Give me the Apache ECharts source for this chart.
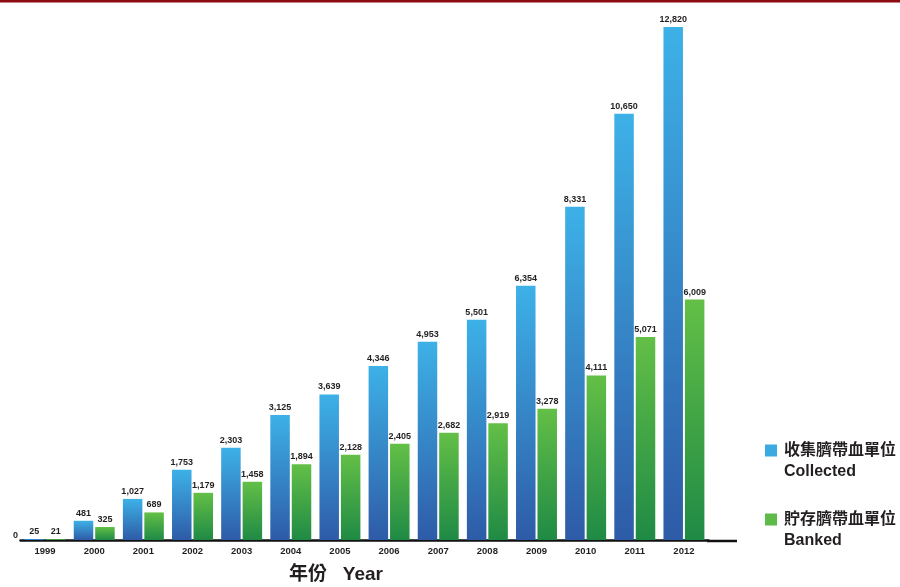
<!DOCTYPE html>
<html>
<head>
<meta charset="utf-8">
<script src="https://cdn.jsdelivr.net/npm/echarts@6/dist/echarts.min.js"></script>
<style>
  html, body { margin: 0; padding: 0; background: #fff; }
  #chart { width: 900px; height: 587px; }
</style>
</head>
<body>
<div id="chart"></div>
<script>
// Cord blood units collected and banked per year
const years = ['1999', '2000', '2001', '2002', '2003', '2004', '2005', '2006', '2007', '2008', '2009', '2010', '2011', '2012'];
const collected = [25, 481, 1027, 1753, 2303, 3125, 3639, 4346, 4953, 5501, 6354, 8331, 10650, 12820];
const banked = [21, 325, 689, 1179, 1458, 1894, 2128, 2405, 2682, 2919, 3278, 4111, 5071, 6009];
const seriesNames = ['收集臍帶血單位\nCollected', '貯存臍帶血單位\nBanked'];
const axisTitle = '年份   Year';

const FONT = '"Liberation Sans", Arial, "Noto Sans CJK TC", sans-serif';
const INK = '#231f20';

const chart = echarts.init(document.getElementById('chart'));

// Each bar fades from a light tone at its top to a deep tone at the baseline
const blueFill = new echarts.graphic.LinearGradient(0, 0, 0, 1, [
  { offset: 0, color: '#3db1e7' },
  { offset: 1, color: '#2e5ba7' }
]);
const greenFill = new echarts.graphic.LinearGradient(0, 0, 0, 1, [
  { offset: 0, color: '#63bf46' },
  { offset: 1, color: '#1f8a45' }
]);

const valueLabel = {
  show: true,
  position: 'top',
  distance: 3,
  color: INK,
  fontFamily: FONT,
  fontWeight: 'bold',
  fontSize: 9,
  formatter: p => p.value.toLocaleString('en-US')
};

chart.setOption({
  animation: false,
  backgroundColor: '#ffffff',
  grid: { left: 20.5, right: 191.5, top: 27, bottom: 47 },
  title: {
    text: axisTitle,
    left: 289,
    top: 565,
    padding: 0,
    textStyle: { fontFamily: FONT, fontWeight: 'bold', fontSize: 19, color: INK }
  },
  legend: {
    orient: 'vertical',
    left: 765,
    top: 419,
    padding: 0,
    itemWidth: 12,
    itemHeight: 12,
    itemGap: 6,
    icon: 'rect',
    // a leading blank line keeps the swatch level with the Chinese line
    formatter: name => '\n' + name,
    textStyle: {
      fontFamily: FONT,
      fontWeight: 'bold',
      fontSize: 16,
      lineHeight: 21,
      color: INK,
      padding: [0, 0, 0, 2]
    },
    data: [
      { name: seriesNames[0], itemStyle: { color: '#3aaae0' } },
      { name: seriesNames[1], itemStyle: { color: '#5dbb47' } }
    ]
  },
  xAxis: {
    type: 'category',
    data: years,
    offset: 1,
    axisLine: { lineStyle: { color: '#111', width: 2.5 } },
    axisTick: { show: false },
    axisLabel: {
      margin: 6,
      color: INK,
      fontFamily: FONT,
      fontWeight: 'bold',
      fontSize: 9.5
    }
  },
  yAxis: {
    type: 'value',
    min: 0,
    max: 12820,
    interval: 12820,
    axisLine: { show: false },
    axisTick: { show: false },
    splitLine: { show: false },
    axisLabel: {
      margin: 2.5,
      verticalAlign: 'bottom',
      color: INK,
      fontFamily: FONT,
      fontWeight: 'bold',
      fontSize: 9,
      formatter: v => (v === 0 ? '0' : '')
    }
  },
  series: [
    {
      name: seriesNames[0],
      type: 'bar',
      data: collected,
      barWidth: 19.5,
      barGap: '10%',
      itemStyle: { color: blueFill },
      label: valueLabel
    },
    {
      name: seriesNames[1],
      type: 'bar',
      data: banked,
      barWidth: 19.5,
      barGap: '10%',
      itemStyle: { color: greenFill },
      label: valueLabel
    }
  ],
  graphic: [
    // dark red rule across the top edge
    { type: 'rect', left: 0, top: 0, shape: { width: 900, height: 2.5 }, style: { fill: '#8c0a12' }, silent: true },
    // baseline continues past the last year
    { type: 'line', shape: { x1: 707, y1: 541, x2: 737, y2: 541 }, style: { stroke: '#111', lineWidth: 2.5 }, silent: true }
  ]
});
</script>
</body>
</html>
